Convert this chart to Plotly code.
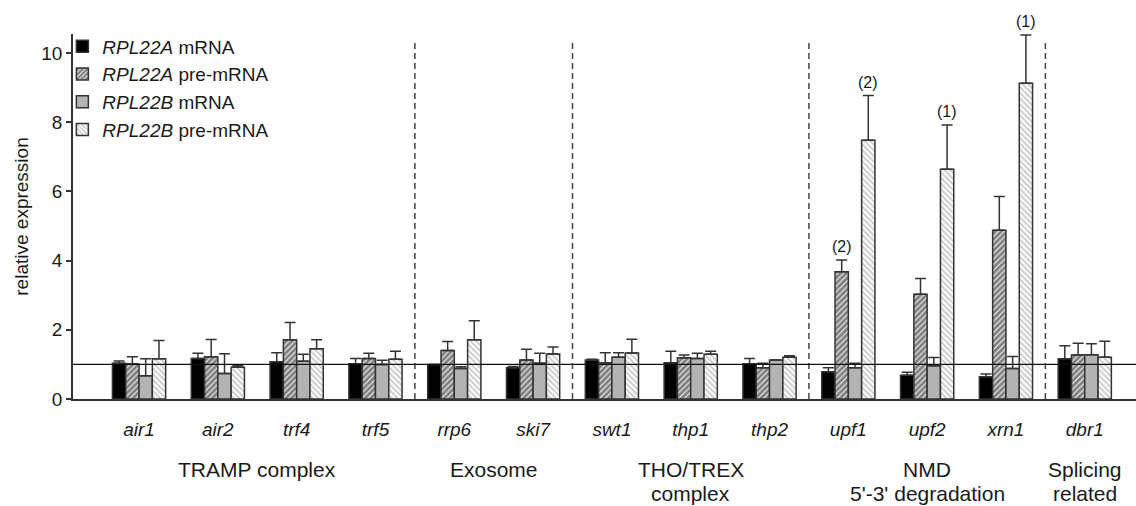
import plotly.graph_objects as go

genes = ["air1", "air2", "trf4", "trf5", "rrp6", "ski7", "swt1", "thp1", "thp2",
         "upf1", "upf2", "xrn1", "dbr1"]

series_names = ["<i>RPL22A</i> mRNA", "<i>RPL22A</i> pre-mRNA",
                "<i>RPL22B</i> mRNA", "<i>RPL22B</i> pre-mRNA"]

a_mrna     = [1.03, 1.17, 1.08, 1.02, 1.00, 0.90, 1.13, 1.05, 1.02, 0.79, 0.69, 0.64, 1.16]
a_mrna_top = [1.10, 1.32, 1.34, 1.17, 1.00, 0.94, 1.15, 1.38, 1.17, 0.90, 0.77, 0.72, 1.54]
a_pre      = [1.01, 1.22, 1.71, 1.17, 1.40, 1.13, 1.05, 1.19, 0.90, 3.68, 3.03, 4.88, 1.27]
a_pre_top  = [1.22, 1.72, 2.21, 1.32, 1.66, 1.44, 1.34, 1.27, 1.03, 4.02, 3.48, 5.85, 1.61]
b_mrna     = [0.67, 0.74, 1.09, 1.00, 0.88, 1.03, 1.21, 1.17, 1.13, 0.90, 0.96, 0.88, 1.28]
b_mrna_top = [1.16, 1.31, 1.29, 1.12, 0.93, 1.32, 1.34, 1.32, 1.13, 1.03, 1.20, 1.23, 1.60]
b_pre      = [1.16, 0.92, 1.45, 1.15, 1.71, 1.30, 1.33, 1.29, 1.21, 7.48, 6.64, 9.13, 1.21]
b_pre_top  = [1.69, 0.97, 1.71, 1.38, 2.26, 1.50, 1.73, 1.38, 1.25, 8.77, 7.92, 10.52, 1.67]

values = [a_mrna, a_pre, b_mrna, b_pre]
tops = [a_mrna_top, a_pre_top, b_mrna_top, b_pre_top]

group_labels = [["TRAMP complex"], ["Exosome"], ["THO/TREX", "complex"],
                ["NMD", "5'-3' degradation"], ["Splicing", "related"]]
group_members = [["air1", "air2", "trf4", "trf5"], ["rrp6", "ski7"],
                 ["swt1", "thp1", "thp2"], ["upf1", "upf2", "xrn1"], ["dbr1"]]

# (gene, series index, label)
n_labels = [("upf1", 1, "(2)"), ("upf1", 3, "(2)"), ("upf2", 3, "(1)"), ("xrn1", 3, "(1)")]

reference_level = 1.0

FONT = "Liberation Sans, Arial, sans-serif"
EDGE = "#333333"
TXT = "#1a1a1a"

styles = [
    dict(color="#000000", pattern=None),
    dict(color="#ffffff", pattern=dict(shape="/", fgcolor="#000000", bgcolor="#ffffff",
                                       size=4, solidity=0.75)),
    dict(color="#b3b3b3", pattern=None),
    dict(color="#ffffff", pattern=dict(shape="\\", fgcolor="#9a9a9a", bgcolor="#ffffff",
                                       size=4, solidity=0.5)),
]

fig = go.Figure()
for name, vals, tp, st in zip(series_names, values, tops, styles):
    marker = dict(color=st["color"], line=dict(color=EDGE, width=1.5))
    if st["pattern"] is not None:
        marker["pattern"] = st["pattern"]
    fig.add_trace(go.Bar(
        x=genes, y=vals, name=name, marker=marker, cliponaxis=False,
        error_y=dict(type="data", symmetric=False,
                     array=[t - v for t, v in zip(tp, vals)],
                     arrayminus=[0] * len(vals),
                     color=EDGE, thickness=1.5, width=5.5),
    ))

bargap = 0.325
nser = len(series_names)
bw = (1 - bargap) / nser

shapes = []
idx = {g: i for i, g in enumerate(genes)}
for grp in group_members[:-1]:
    xsep = idx[grp[-1]] + 0.5
    shapes.append(dict(type="line", xref="x", yref="y", x0=xsep, x1=xsep, y0=0, y1=10.4,
                       line=dict(color="#444444", width=1.5, dash="6px,4px")))
shapes.append(dict(type="line", xref="paper", yref="y", x0=0, x1=1,
                   y0=reference_level, y1=reference_level,
                   line=dict(color="#111111", width=1.3)))

annotations = []
for g, s, lab in n_labels:
    xi = idx[g] + (-(nser - 1) / 2 + s) * bw
    annotations.append(dict(x=xi, y=tops[s][idx[g]], xref="x", yref="y", text=lab,
                            showarrow=False, yanchor="bottom", yshift=3,
                            font=dict(family=FONT, size=16, color=TXT)))

line_y = [-0.192, -0.26]
for lines, members in zip(group_labels, group_members):
    xc = sum(idx[m] for m in members) / len(members)
    for k, t in enumerate(lines):
        annotations.append(dict(x=xc, y=line_y[k], xref="x", yref="paper", text=t,
                                showarrow=False, yanchor="middle", xanchor="center",
                                font=dict(family=FONT, size=21, color=TXT)))

fig.update_layout(
    width=1136, height=506,
    margin=dict(l=73, r=0, t=34, b=107),
    paper_bgcolor="white", plot_bgcolor="white",
    barmode="group", bargap=bargap, bargroupgap=0,
    font=dict(family=FONT, color=TXT),
    showlegend=True,
    legend=dict(x=-0.01, y=1.018, xanchor="left", yanchor="top",
                bgcolor="rgba(0,0,0,0)", font=dict(family=FONT, size=19, color=TXT),
                itemwidth=30, tracegroupgap=0),
    shapes=shapes, annotations=annotations,
)
fig.update_xaxes(type="category", range=[-0.838, 12.65], showline=True, linecolor=EDGE,
                 linewidth=1.5, ticks="", showgrid=False, zeroline=False,
                 tickfont=dict(family=FONT, size=19, color=TXT, style="italic"),
                 ticklabelstandoff=12)
fig.update_yaxes(range=[0, 10.55], showline=True, linecolor=EDGE, linewidth=1.5,
                 ticks="outside", ticklen=5, tickcolor=EDGE, tickwidth=1.5,
                 tickvals=[0, 2, 4, 6, 8, 10], showgrid=False, zeroline=False,
                 tickfont=dict(family=FONT, size=19, color=TXT),
                 title=dict(text="relative expression", standoff=8,
                            font=dict(family=FONT, size=19, color=TXT)))

fig.write_html("out.html")
